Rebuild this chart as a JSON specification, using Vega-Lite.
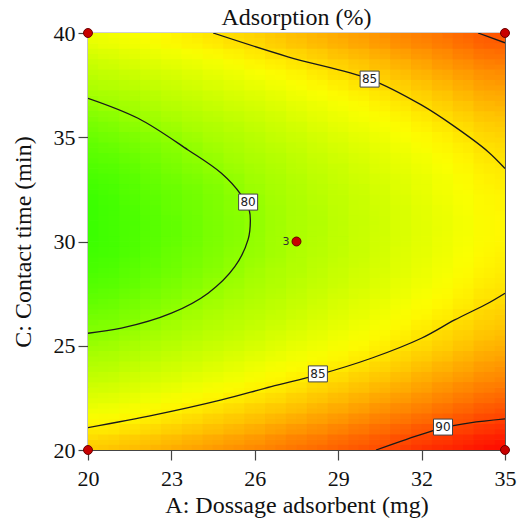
{
"$schema": "https://vega.github.io/schema/vega-lite/v6.json",
"width": 417, "height": 417,
"autosize": "none",
"padding": {"left": 88, "top": 33, "right": 19, "bottom": 72},
"background": "white",
"config": {"view": {"stroke": "#444", "strokeWidth": 1.2}, "font": "Liberation Serif"},
"title": {"text": "Adsorption (%)", "font": "Liberation Serif", "fontSize": 24, "fontWeight": "normal", "color": "#111", "offset": -8, "anchor": "middle"},
"datasets": {
"grid": [
{"A":20.375,"C":20.25,"Y":85.7},{"A":21.125,"C":20.25,"Y":86.0},{"A":21.875,"C":20.25,"Y":86.2},{"A":22.625,"C":20.25,"Y":86.5},{"A":23.375,"C":20.25,"Y":86.8},{"A":24.125,"C":20.25,"Y":87.1},{"A":24.875,"C":20.25,"Y":87.4},{"A":25.625,"C":20.25,"Y":87.7},{"A":26.375,"C":20.25,"Y":88.0},{"A":27.125,"C":20.25,"Y":88.4},{"A":27.875,"C":20.25,"Y":88.7},{"A":28.625,"C":20.25,"Y":89.0},{"A":29.375,"C":20.25,"Y":89.4},{"A":30.125,"C":20.25,"Y":89.7},{"A":30.875,"C":20.25,"Y":90.1},{"A":31.625,"C":20.25,"Y":90.5},{"A":32.375,"C":20.25,"Y":90.9},{"A":33.125,"C":20.25,"Y":91.2},{"A":33.875,"C":20.25,"Y":91.6},{"A":34.625,"C":20.25,"Y":92.0},
{"A":20.375,"C":20.75,"Y":85.0},{"A":21.125,"C":20.75,"Y":85.3},{"A":21.875,"C":20.75,"Y":85.5},{"A":22.625,"C":20.75,"Y":85.8},{"A":23.375,"C":20.75,"Y":86.1},{"A":24.125,"C":20.75,"Y":86.4},{"A":24.875,"C":20.75,"Y":86.7},{"A":25.625,"C":20.75,"Y":87.0},{"A":26.375,"C":20.75,"Y":87.3},{"A":27.125,"C":20.75,"Y":87.7},{"A":27.875,"C":20.75,"Y":88.0},{"A":28.625,"C":20.75,"Y":88.3},{"A":29.375,"C":20.75,"Y":88.7},{"A":30.125,"C":20.75,"Y":89.0},{"A":30.875,"C":20.75,"Y":89.4},{"A":31.625,"C":20.75,"Y":89.8},{"A":32.375,"C":20.75,"Y":90.1},{"A":33.125,"C":20.75,"Y":90.5},{"A":33.875,"C":20.75,"Y":90.9},{"A":34.625,"C":20.75,"Y":91.3},
{"A":20.375,"C":21.25,"Y":84.3},{"A":21.125,"C":21.25,"Y":84.6},{"A":21.875,"C":21.25,"Y":84.8},{"A":22.625,"C":21.25,"Y":85.1},{"A":23.375,"C":21.25,"Y":85.4},{"A":24.125,"C":21.25,"Y":85.7},{"A":24.875,"C":21.25,"Y":86.0},{"A":25.625,"C":21.25,"Y":86.3},{"A":26.375,"C":21.25,"Y":86.6},{"A":27.125,"C":21.25,"Y":87.0},{"A":27.875,"C":21.25,"Y":87.3},{"A":28.625,"C":21.25,"Y":87.6},{"A":29.375,"C":21.25,"Y":88.0},{"A":30.125,"C":21.25,"Y":88.4},{"A":30.875,"C":21.25,"Y":88.7},{"A":31.625,"C":21.25,"Y":89.1},{"A":32.375,"C":21.25,"Y":89.5},{"A":33.125,"C":21.25,"Y":89.8},{"A":33.875,"C":21.25,"Y":90.2},{"A":34.625,"C":21.25,"Y":90.6},
{"A":20.375,"C":21.75,"Y":83.7},{"A":21.125,"C":21.75,"Y":83.9},{"A":21.875,"C":21.75,"Y":84.2},{"A":22.625,"C":21.75,"Y":84.5},{"A":23.375,"C":21.75,"Y":84.8},{"A":24.125,"C":21.75,"Y":85.1},{"A":24.875,"C":21.75,"Y":85.4},{"A":25.625,"C":21.75,"Y":85.7},{"A":26.375,"C":21.75,"Y":86.0},{"A":27.125,"C":21.75,"Y":86.3},{"A":27.875,"C":21.75,"Y":86.7},{"A":28.625,"C":21.75,"Y":87.0},{"A":29.375,"C":21.75,"Y":87.3},{"A":30.125,"C":21.75,"Y":87.7},{"A":30.875,"C":21.75,"Y":88.1},{"A":31.625,"C":21.75,"Y":88.4},{"A":32.375,"C":21.75,"Y":88.8},{"A":33.125,"C":21.75,"Y":89.2},{"A":33.875,"C":21.75,"Y":89.6},{"A":34.625,"C":21.75,"Y":90.0},
{"A":20.375,"C":22.25,"Y":83.0},{"A":21.125,"C":22.25,"Y":83.3},{"A":21.875,"C":22.25,"Y":83.6},{"A":22.625,"C":22.25,"Y":83.9},{"A":23.375,"C":22.25,"Y":84.2},{"A":24.125,"C":22.25,"Y":84.5},{"A":24.875,"C":22.25,"Y":84.8},{"A":25.625,"C":22.25,"Y":85.1},{"A":26.375,"C":22.25,"Y":85.4},{"A":27.125,"C":22.25,"Y":85.7},{"A":27.875,"C":22.25,"Y":86.0},{"A":28.625,"C":22.25,"Y":86.4},{"A":29.375,"C":22.25,"Y":86.7},{"A":30.125,"C":22.25,"Y":87.1},{"A":30.875,"C":22.25,"Y":87.5},{"A":31.625,"C":22.25,"Y":87.8},{"A":32.375,"C":22.25,"Y":88.2},{"A":33.125,"C":22.25,"Y":88.6},{"A":33.875,"C":22.25,"Y":89.0},{"A":34.625,"C":22.25,"Y":89.4},
{"A":20.375,"C":22.75,"Y":82.5},{"A":21.125,"C":22.75,"Y":82.7},{"A":21.875,"C":22.75,"Y":83.0},{"A":22.625,"C":22.75,"Y":83.3},{"A":23.375,"C":22.75,"Y":83.6},{"A":24.125,"C":22.75,"Y":83.9},{"A":24.875,"C":22.75,"Y":84.2},{"A":25.625,"C":22.75,"Y":84.5},{"A":26.375,"C":22.75,"Y":84.8},{"A":27.125,"C":22.75,"Y":85.1},{"A":27.875,"C":22.75,"Y":85.5},{"A":28.625,"C":22.75,"Y":85.8},{"A":29.375,"C":22.75,"Y":86.2},{"A":30.125,"C":22.75,"Y":86.5},{"A":30.875,"C":22.75,"Y":86.9},{"A":31.625,"C":22.75,"Y":87.2},{"A":32.375,"C":22.75,"Y":87.6},{"A":33.125,"C":22.75,"Y":88.0},{"A":33.875,"C":22.75,"Y":88.4},{"A":34.625,"C":22.75,"Y":88.8},
{"A":20.375,"C":23.25,"Y":81.9},{"A":21.125,"C":23.25,"Y":82.2},{"A":21.875,"C":23.25,"Y":82.5},{"A":22.625,"C":23.25,"Y":82.7},{"A":23.375,"C":23.25,"Y":83.0},{"A":24.125,"C":23.25,"Y":83.3},{"A":24.875,"C":23.25,"Y":83.6},{"A":25.625,"C":23.25,"Y":83.9},{"A":26.375,"C":23.25,"Y":84.3},{"A":27.125,"C":23.25,"Y":84.6},{"A":27.875,"C":23.25,"Y":84.9},{"A":28.625,"C":23.25,"Y":85.3},{"A":29.375,"C":23.25,"Y":85.6},{"A":30.125,"C":23.25,"Y":86.0},{"A":30.875,"C":23.25,"Y":86.3},{"A":31.625,"C":23.25,"Y":86.7},{"A":32.375,"C":23.25,"Y":87.1},{"A":33.125,"C":23.25,"Y":87.5},{"A":33.875,"C":23.25,"Y":87.9},{"A":34.625,"C":23.25,"Y":88.2},
{"A":20.375,"C":23.75,"Y":81.4},{"A":21.125,"C":23.75,"Y":81.7},{"A":21.875,"C":23.75,"Y":82.0},{"A":22.625,"C":23.75,"Y":82.2},{"A":23.375,"C":23.75,"Y":82.5},{"A":24.125,"C":23.75,"Y":82.8},{"A":24.875,"C":23.75,"Y":83.1},{"A":25.625,"C":23.75,"Y":83.4},{"A":26.375,"C":23.75,"Y":83.8},{"A":27.125,"C":23.75,"Y":84.1},{"A":27.875,"C":23.75,"Y":84.4},{"A":28.625,"C":23.75,"Y":84.8},{"A":29.375,"C":23.75,"Y":85.1},{"A":30.125,"C":23.75,"Y":85.5},{"A":30.875,"C":23.75,"Y":85.8},{"A":31.625,"C":23.75,"Y":86.2},{"A":32.375,"C":23.75,"Y":86.6},{"A":33.125,"C":23.75,"Y":86.9},{"A":33.875,"C":23.75,"Y":87.3},{"A":34.625,"C":23.75,"Y":87.7},
{"A":20.375,"C":24.25,"Y":80.9},{"A":21.125,"C":24.25,"Y":81.2},{"A":21.875,"C":24.25,"Y":81.5},{"A":22.625,"C":24.25,"Y":81.8},{"A":23.375,"C":24.25,"Y":82.1},{"A":24.125,"C":24.25,"Y":82.3},{"A":24.875,"C":24.25,"Y":82.7},{"A":25.625,"C":24.25,"Y":83.0},{"A":26.375,"C":24.25,"Y":83.3},{"A":27.125,"C":24.25,"Y":83.6},{"A":27.875,"C":24.25,"Y":83.9},{"A":28.625,"C":24.25,"Y":84.3},{"A":29.375,"C":24.25,"Y":84.6},{"A":30.125,"C":24.25,"Y":85.0},{"A":30.875,"C":24.25,"Y":85.3},{"A":31.625,"C":24.25,"Y":85.7},{"A":32.375,"C":24.25,"Y":86.1},{"A":33.125,"C":24.25,"Y":86.5},{"A":33.875,"C":24.25,"Y":86.9},{"A":34.625,"C":24.25,"Y":87.3},
{"A":20.375,"C":24.75,"Y":80.5},{"A":21.125,"C":24.75,"Y":80.8},{"A":21.875,"C":24.75,"Y":81.0},{"A":22.625,"C":24.75,"Y":81.3},{"A":23.375,"C":24.75,"Y":81.6},{"A":24.125,"C":24.75,"Y":81.9},{"A":24.875,"C":24.75,"Y":82.2},{"A":25.625,"C":24.75,"Y":82.5},{"A":26.375,"C":24.75,"Y":82.8},{"A":27.125,"C":24.75,"Y":83.2},{"A":27.875,"C":24.75,"Y":83.5},{"A":28.625,"C":24.75,"Y":83.8},{"A":29.375,"C":24.75,"Y":84.2},{"A":30.125,"C":24.75,"Y":84.5},{"A":30.875,"C":24.75,"Y":84.9},{"A":31.625,"C":24.75,"Y":85.3},{"A":32.375,"C":24.75,"Y":85.6},{"A":33.125,"C":24.75,"Y":86.0},{"A":33.875,"C":24.75,"Y":86.4},{"A":34.625,"C":24.75,"Y":86.8},
{"A":20.375,"C":25.25,"Y":80.1},{"A":21.125,"C":25.25,"Y":80.4},{"A":21.875,"C":25.25,"Y":80.6},{"A":22.625,"C":25.25,"Y":80.9},{"A":23.375,"C":25.25,"Y":81.2},{"A":24.125,"C":25.25,"Y":81.5},{"A":24.875,"C":25.25,"Y":81.8},{"A":25.625,"C":25.25,"Y":82.1},{"A":26.375,"C":25.25,"Y":82.4},{"A":27.125,"C":25.25,"Y":82.8},{"A":27.875,"C":25.25,"Y":83.1},{"A":28.625,"C":25.25,"Y":83.4},{"A":29.375,"C":25.25,"Y":83.8},{"A":30.125,"C":25.25,"Y":84.1},{"A":30.875,"C":25.25,"Y":84.5},{"A":31.625,"C":25.25,"Y":84.9},{"A":32.375,"C":25.25,"Y":85.2},{"A":33.125,"C":25.25,"Y":85.6},{"A":33.875,"C":25.25,"Y":86.0},{"A":34.625,"C":25.25,"Y":86.4},
{"A":20.375,"C":25.75,"Y":79.7},{"A":21.125,"C":25.75,"Y":80.0},{"A":21.875,"C":25.75,"Y":80.3},{"A":22.625,"C":25.75,"Y":80.5},{"A":23.375,"C":25.75,"Y":80.8},{"A":24.125,"C":25.75,"Y":81.1},{"A":24.875,"C":25.75,"Y":81.4},{"A":25.625,"C":25.75,"Y":81.7},{"A":26.375,"C":25.75,"Y":82.1},{"A":27.125,"C":25.75,"Y":82.4},{"A":27.875,"C":25.75,"Y":82.7},{"A":28.625,"C":25.75,"Y":83.1},{"A":29.375,"C":25.75,"Y":83.4},{"A":30.125,"C":25.75,"Y":83.8},{"A":30.875,"C":25.75,"Y":84.1},{"A":31.625,"C":25.75,"Y":84.5},{"A":32.375,"C":25.75,"Y":84.9},{"A":33.125,"C":25.75,"Y":85.3},{"A":33.875,"C":25.75,"Y":85.6},{"A":34.625,"C":25.75,"Y":86.0},
{"A":20.375,"C":26.25,"Y":79.4},{"A":21.125,"C":26.25,"Y":79.6},{"A":21.875,"C":26.25,"Y":79.9},{"A":22.625,"C":26.25,"Y":80.2},{"A":23.375,"C":26.25,"Y":80.5},{"A":24.125,"C":26.25,"Y":80.8},{"A":24.875,"C":26.25,"Y":81.1},{"A":25.625,"C":26.25,"Y":81.4},{"A":26.375,"C":26.25,"Y":81.7},{"A":27.125,"C":26.25,"Y":82.0},{"A":27.875,"C":26.25,"Y":82.4},{"A":28.625,"C":26.25,"Y":82.7},{"A":29.375,"C":26.25,"Y":83.1},{"A":30.125,"C":26.25,"Y":83.4},{"A":30.875,"C":26.25,"Y":83.8},{"A":31.625,"C":26.25,"Y":84.2},{"A":32.375,"C":26.25,"Y":84.5},{"A":33.125,"C":26.25,"Y":84.9},{"A":33.875,"C":26.25,"Y":85.3},{"A":34.625,"C":26.25,"Y":85.7},
{"A":20.375,"C":26.75,"Y":79.1},{"A":21.125,"C":26.75,"Y":79.3},{"A":21.875,"C":26.75,"Y":79.6},{"A":22.625,"C":26.75,"Y":79.9},{"A":23.375,"C":26.75,"Y":80.2},{"A":24.125,"C":26.75,"Y":80.5},{"A":24.875,"C":26.75,"Y":80.8},{"A":25.625,"C":26.75,"Y":81.1},{"A":26.375,"C":26.75,"Y":81.4},{"A":27.125,"C":26.75,"Y":81.7},{"A":27.875,"C":26.75,"Y":82.1},{"A":28.625,"C":26.75,"Y":82.4},{"A":29.375,"C":26.75,"Y":82.8},{"A":30.125,"C":26.75,"Y":83.1},{"A":30.875,"C":26.75,"Y":83.5},{"A":31.625,"C":26.75,"Y":83.9},{"A":32.375,"C":26.75,"Y":84.2},{"A":33.125,"C":26.75,"Y":84.6},{"A":33.875,"C":26.75,"Y":85.0},{"A":34.625,"C":26.75,"Y":85.4},
{"A":20.375,"C":27.25,"Y":78.8},{"A":21.125,"C":27.25,"Y":79.1},{"A":21.875,"C":27.25,"Y":79.4},{"A":22.625,"C":27.25,"Y":79.6},{"A":23.375,"C":27.25,"Y":79.9},{"A":24.125,"C":27.25,"Y":80.2},{"A":24.875,"C":27.25,"Y":80.5},{"A":25.625,"C":27.25,"Y":80.8},{"A":26.375,"C":27.25,"Y":81.2},{"A":27.125,"C":27.25,"Y":81.5},{"A":27.875,"C":27.25,"Y":81.8},{"A":28.625,"C":27.25,"Y":82.2},{"A":29.375,"C":27.25,"Y":82.5},{"A":30.125,"C":27.25,"Y":82.9},{"A":30.875,"C":27.25,"Y":83.2},{"A":31.625,"C":27.25,"Y":83.6},{"A":32.375,"C":27.25,"Y":84.0},{"A":33.125,"C":27.25,"Y":84.3},{"A":33.875,"C":27.25,"Y":84.7},{"A":34.625,"C":27.25,"Y":85.1},
{"A":20.375,"C":27.75,"Y":78.6},{"A":21.125,"C":27.75,"Y":78.8},{"A":21.875,"C":27.75,"Y":79.1},{"A":22.625,"C":27.75,"Y":79.4},{"A":23.375,"C":27.75,"Y":79.7},{"A":24.125,"C":27.75,"Y":80.0},{"A":24.875,"C":27.75,"Y":80.3},{"A":25.625,"C":27.75,"Y":80.6},{"A":26.375,"C":27.75,"Y":80.9},{"A":27.125,"C":27.75,"Y":81.2},{"A":27.875,"C":27.75,"Y":81.6},{"A":28.625,"C":27.75,"Y":81.9},{"A":29.375,"C":27.75,"Y":82.3},{"A":30.125,"C":27.75,"Y":82.6},{"A":30.875,"C":27.75,"Y":83.0},{"A":31.625,"C":27.75,"Y":83.4},{"A":32.375,"C":27.75,"Y":83.7},{"A":33.125,"C":27.75,"Y":84.1},{"A":33.875,"C":27.75,"Y":84.5},{"A":34.625,"C":27.75,"Y":84.9},
{"A":20.375,"C":28.25,"Y":78.4},{"A":21.125,"C":28.25,"Y":78.6},{"A":21.875,"C":28.25,"Y":78.9},{"A":22.625,"C":28.25,"Y":79.2},{"A":23.375,"C":28.25,"Y":79.5},{"A":24.125,"C":28.25,"Y":79.8},{"A":24.875,"C":28.25,"Y":80.1},{"A":25.625,"C":28.25,"Y":80.4},{"A":26.375,"C":28.25,"Y":80.7},{"A":27.125,"C":28.25,"Y":81.0},{"A":27.875,"C":28.25,"Y":81.4},{"A":28.625,"C":28.25,"Y":81.7},{"A":29.375,"C":28.25,"Y":82.1},{"A":30.125,"C":28.25,"Y":82.4},{"A":30.875,"C":28.25,"Y":82.8},{"A":31.625,"C":28.25,"Y":83.2},{"A":32.375,"C":28.25,"Y":83.5},{"A":33.125,"C":28.25,"Y":83.9},{"A":33.875,"C":28.25,"Y":84.3},{"A":34.625,"C":28.25,"Y":84.7},
{"A":20.375,"C":28.75,"Y":78.2},{"A":21.125,"C":28.75,"Y":78.5},{"A":21.875,"C":28.75,"Y":78.8},{"A":22.625,"C":28.75,"Y":79.0},{"A":23.375,"C":28.75,"Y":79.3},{"A":24.125,"C":28.75,"Y":79.6},{"A":24.875,"C":28.75,"Y":79.9},{"A":25.625,"C":28.75,"Y":80.2},{"A":26.375,"C":28.75,"Y":80.6},{"A":27.125,"C":28.75,"Y":80.9},{"A":27.875,"C":28.75,"Y":81.2},{"A":28.625,"C":28.75,"Y":81.6},{"A":29.375,"C":28.75,"Y":81.9},{"A":30.125,"C":28.75,"Y":82.3},{"A":30.875,"C":28.75,"Y":82.6},{"A":31.625,"C":28.75,"Y":83.0},{"A":32.375,"C":28.75,"Y":83.4},{"A":33.125,"C":28.75,"Y":83.7},{"A":33.875,"C":28.75,"Y":84.1},{"A":34.625,"C":28.75,"Y":84.5},
{"A":20.375,"C":29.25,"Y":78.1},{"A":21.125,"C":29.25,"Y":78.3},{"A":21.875,"C":29.25,"Y":78.6},{"A":22.625,"C":29.25,"Y":78.9},{"A":23.375,"C":29.25,"Y":79.2},{"A":24.125,"C":29.25,"Y":79.5},{"A":24.875,"C":29.25,"Y":79.8},{"A":25.625,"C":29.25,"Y":80.1},{"A":26.375,"C":29.25,"Y":80.4},{"A":27.125,"C":29.25,"Y":80.7},{"A":27.875,"C":29.25,"Y":81.1},{"A":28.625,"C":29.25,"Y":81.4},{"A":29.375,"C":29.25,"Y":81.8},{"A":30.125,"C":29.25,"Y":82.1},{"A":30.875,"C":29.25,"Y":82.5},{"A":31.625,"C":29.25,"Y":82.9},{"A":32.375,"C":29.25,"Y":83.2},{"A":33.125,"C":29.25,"Y":83.6},{"A":33.875,"C":29.25,"Y":84.0},{"A":34.625,"C":29.25,"Y":84.4},
{"A":20.375,"C":29.75,"Y":78.0},{"A":21.125,"C":29.75,"Y":78.2},{"A":21.875,"C":29.75,"Y":78.5},{"A":22.625,"C":29.75,"Y":78.8},{"A":23.375,"C":29.75,"Y":79.1},{"A":24.125,"C":29.75,"Y":79.4},{"A":24.875,"C":29.75,"Y":79.7},{"A":25.625,"C":29.75,"Y":80.0},{"A":26.375,"C":29.75,"Y":80.3},{"A":27.125,"C":29.75,"Y":80.6},{"A":27.875,"C":29.75,"Y":81.0},{"A":28.625,"C":29.75,"Y":81.3},{"A":29.375,"C":29.75,"Y":81.7},{"A":30.125,"C":29.75,"Y":82.0},{"A":30.875,"C":29.75,"Y":82.4},{"A":31.625,"C":29.75,"Y":82.8},{"A":32.375,"C":29.75,"Y":83.1},{"A":33.125,"C":29.75,"Y":83.5},{"A":33.875,"C":29.75,"Y":83.9},{"A":34.625,"C":29.75,"Y":84.3},
{"A":20.375,"C":30.25,"Y":77.9},{"A":21.125,"C":30.25,"Y":78.2},{"A":21.875,"C":30.25,"Y":78.5},{"A":22.625,"C":30.25,"Y":78.7},{"A":23.375,"C":30.25,"Y":79.0},{"A":24.125,"C":30.25,"Y":79.3},{"A":24.875,"C":30.25,"Y":79.6},{"A":25.625,"C":30.25,"Y":79.9},{"A":26.375,"C":30.25,"Y":80.3},{"A":27.125,"C":30.25,"Y":80.6},{"A":27.875,"C":30.25,"Y":80.9},{"A":28.625,"C":30.25,"Y":81.3},{"A":29.375,"C":30.25,"Y":81.6},{"A":30.125,"C":30.25,"Y":82.0},{"A":30.875,"C":30.25,"Y":82.3},{"A":31.625,"C":30.25,"Y":82.7},{"A":32.375,"C":30.25,"Y":83.1},{"A":33.125,"C":30.25,"Y":83.5},{"A":33.875,"C":30.25,"Y":83.8},{"A":34.625,"C":30.25,"Y":84.2},
{"A":20.375,"C":30.75,"Y":77.9},{"A":21.125,"C":30.75,"Y":78.2},{"A":21.875,"C":30.75,"Y":78.4},{"A":22.625,"C":30.75,"Y":78.7},{"A":23.375,"C":30.75,"Y":79.0},{"A":24.125,"C":30.75,"Y":79.3},{"A":24.875,"C":30.75,"Y":79.6},{"A":25.625,"C":30.75,"Y":79.9},{"A":26.375,"C":30.75,"Y":80.2},{"A":27.125,"C":30.75,"Y":80.6},{"A":27.875,"C":30.75,"Y":80.9},{"A":28.625,"C":30.75,"Y":81.2},{"A":29.375,"C":30.75,"Y":81.6},{"A":30.125,"C":30.75,"Y":81.9},{"A":30.875,"C":30.75,"Y":82.3},{"A":31.625,"C":30.75,"Y":82.7},{"A":32.375,"C":30.75,"Y":83.0},{"A":33.125,"C":30.75,"Y":83.4},{"A":33.875,"C":30.75,"Y":83.8},{"A":34.625,"C":30.75,"Y":84.2},
{"A":20.375,"C":31.25,"Y":77.9},{"A":21.125,"C":31.25,"Y":78.2},{"A":21.875,"C":31.25,"Y":78.4},{"A":22.625,"C":31.25,"Y":78.7},{"A":23.375,"C":31.25,"Y":79.0},{"A":24.125,"C":31.25,"Y":79.3},{"A":24.875,"C":31.25,"Y":79.6},{"A":25.625,"C":31.25,"Y":79.9},{"A":26.375,"C":31.25,"Y":80.2},{"A":27.125,"C":31.25,"Y":80.6},{"A":27.875,"C":31.25,"Y":80.9},{"A":28.625,"C":31.25,"Y":81.2},{"A":29.375,"C":31.25,"Y":81.6},{"A":30.125,"C":31.25,"Y":81.9},{"A":30.875,"C":31.25,"Y":82.3},{"A":31.625,"C":31.25,"Y":82.7},{"A":32.375,"C":31.25,"Y":83.1},{"A":33.125,"C":31.25,"Y":83.4},{"A":33.875,"C":31.25,"Y":83.8},{"A":34.625,"C":31.25,"Y":84.2},
{"A":20.375,"C":31.75,"Y":77.9},{"A":21.125,"C":31.75,"Y":78.2},{"A":21.875,"C":31.75,"Y":78.5},{"A":22.625,"C":31.75,"Y":78.8},{"A":23.375,"C":31.75,"Y":79.1},{"A":24.125,"C":31.75,"Y":79.3},{"A":24.875,"C":31.75,"Y":79.7},{"A":25.625,"C":31.75,"Y":80.0},{"A":26.375,"C":31.75,"Y":80.3},{"A":27.125,"C":31.75,"Y":80.6},{"A":27.875,"C":31.75,"Y":80.9},{"A":28.625,"C":31.75,"Y":81.3},{"A":29.375,"C":31.75,"Y":81.6},{"A":30.125,"C":31.75,"Y":82.0},{"A":30.875,"C":31.75,"Y":82.3},{"A":31.625,"C":31.75,"Y":82.7},{"A":32.375,"C":31.75,"Y":83.1},{"A":33.125,"C":31.75,"Y":83.5},{"A":33.875,"C":31.75,"Y":83.9},{"A":34.625,"C":31.75,"Y":84.3},
{"A":20.375,"C":32.25,"Y":78.0},{"A":21.125,"C":32.25,"Y":78.3},{"A":21.875,"C":32.25,"Y":78.6},{"A":22.625,"C":32.25,"Y":78.8},{"A":23.375,"C":32.25,"Y":79.1},{"A":24.125,"C":32.25,"Y":79.4},{"A":24.875,"C":32.25,"Y":79.7},{"A":25.625,"C":32.25,"Y":80.0},{"A":26.375,"C":32.25,"Y":80.4},{"A":27.125,"C":32.25,"Y":80.7},{"A":27.875,"C":32.25,"Y":81.0},{"A":28.625,"C":32.25,"Y":81.4},{"A":29.375,"C":32.25,"Y":81.7},{"A":30.125,"C":32.25,"Y":82.1},{"A":30.875,"C":32.25,"Y":82.4},{"A":31.625,"C":32.25,"Y":82.8},{"A":32.375,"C":32.25,"Y":83.2},{"A":33.125,"C":32.25,"Y":83.6},{"A":33.875,"C":32.25,"Y":83.9},{"A":34.625,"C":32.25,"Y":84.3},
{"A":20.375,"C":32.75,"Y":78.1},{"A":21.125,"C":32.75,"Y":78.4},{"A":21.875,"C":32.75,"Y":78.7},{"A":22.625,"C":32.75,"Y":79.0},{"A":23.375,"C":32.75,"Y":79.2},{"A":24.125,"C":32.75,"Y":79.5},{"A":24.875,"C":32.75,"Y":79.8},{"A":25.625,"C":32.75,"Y":80.2},{"A":26.375,"C":32.75,"Y":80.5},{"A":27.125,"C":32.75,"Y":80.8},{"A":27.875,"C":32.75,"Y":81.1},{"A":28.625,"C":32.75,"Y":81.5},{"A":29.375,"C":32.75,"Y":81.8},{"A":30.125,"C":32.75,"Y":82.2},{"A":30.875,"C":32.75,"Y":82.5},{"A":31.625,"C":32.75,"Y":82.9},{"A":32.375,"C":32.75,"Y":83.3},{"A":33.125,"C":32.75,"Y":83.7},{"A":33.875,"C":32.75,"Y":84.1},{"A":34.625,"C":32.75,"Y":84.5},
{"A":20.375,"C":33.25,"Y":78.3},{"A":21.125,"C":33.25,"Y":78.5},{"A":21.875,"C":33.25,"Y":78.8},{"A":22.625,"C":33.25,"Y":79.1},{"A":23.375,"C":33.25,"Y":79.4},{"A":24.125,"C":33.25,"Y":79.7},{"A":24.875,"C":33.25,"Y":80.0},{"A":25.625,"C":33.25,"Y":80.3},{"A":26.375,"C":33.25,"Y":80.6},{"A":27.125,"C":33.25,"Y":80.9},{"A":27.875,"C":33.25,"Y":81.3},{"A":28.625,"C":33.25,"Y":81.6},{"A":29.375,"C":33.25,"Y":82.0},{"A":30.125,"C":33.25,"Y":82.3},{"A":30.875,"C":33.25,"Y":82.7},{"A":31.625,"C":33.25,"Y":83.0},{"A":32.375,"C":33.25,"Y":83.4},{"A":33.125,"C":33.25,"Y":83.8},{"A":33.875,"C":33.25,"Y":84.2},{"A":34.625,"C":33.25,"Y":84.6},
{"A":20.375,"C":33.75,"Y":78.5},{"A":21.125,"C":33.75,"Y":78.7},{"A":21.875,"C":33.75,"Y":79.0},{"A":22.625,"C":33.75,"Y":79.3},{"A":23.375,"C":33.75,"Y":79.6},{"A":24.125,"C":33.75,"Y":79.9},{"A":24.875,"C":33.75,"Y":80.2},{"A":25.625,"C":33.75,"Y":80.5},{"A":26.375,"C":33.75,"Y":80.8},{"A":27.125,"C":33.75,"Y":81.1},{"A":27.875,"C":33.75,"Y":81.5},{"A":28.625,"C":33.75,"Y":81.8},{"A":29.375,"C":33.75,"Y":82.1},{"A":30.125,"C":33.75,"Y":82.5},{"A":30.875,"C":33.75,"Y":82.9},{"A":31.625,"C":33.75,"Y":83.2},{"A":32.375,"C":33.75,"Y":83.6},{"A":33.125,"C":33.75,"Y":84.0},{"A":33.875,"C":33.75,"Y":84.4},{"A":34.625,"C":33.75,"Y":84.8},
{"A":20.375,"C":34.25,"Y":78.7},{"A":21.125,"C":34.25,"Y":78.9},{"A":21.875,"C":34.25,"Y":79.2},{"A":22.625,"C":34.25,"Y":79.5},{"A":23.375,"C":34.25,"Y":79.8},{"A":24.125,"C":34.25,"Y":80.1},{"A":24.875,"C":34.25,"Y":80.4},{"A":25.625,"C":34.25,"Y":80.7},{"A":26.375,"C":34.25,"Y":81.0},{"A":27.125,"C":34.25,"Y":81.3},{"A":27.875,"C":34.25,"Y":81.7},{"A":28.625,"C":34.25,"Y":82.0},{"A":29.375,"C":34.25,"Y":82.4},{"A":30.125,"C":34.25,"Y":82.7},{"A":30.875,"C":34.25,"Y":83.1},{"A":31.625,"C":34.25,"Y":83.4},{"A":32.375,"C":34.25,"Y":83.8},{"A":33.125,"C":34.25,"Y":84.2},{"A":33.875,"C":34.25,"Y":84.6},{"A":34.625,"C":34.25,"Y":85.0},
{"A":20.375,"C":34.75,"Y":78.9},{"A":21.125,"C":34.75,"Y":79.2},{"A":21.875,"C":34.75,"Y":79.5},{"A":22.625,"C":34.75,"Y":79.7},{"A":23.375,"C":34.75,"Y":80.0},{"A":24.125,"C":34.75,"Y":80.3},{"A":24.875,"C":34.75,"Y":80.6},{"A":25.625,"C":34.75,"Y":80.9},{"A":26.375,"C":34.75,"Y":81.3},{"A":27.125,"C":34.75,"Y":81.6},{"A":27.875,"C":34.75,"Y":81.9},{"A":28.625,"C":34.75,"Y":82.3},{"A":29.375,"C":34.75,"Y":82.6},{"A":30.125,"C":34.75,"Y":83.0},{"A":30.875,"C":34.75,"Y":83.3},{"A":31.625,"C":34.75,"Y":83.7},{"A":32.375,"C":34.75,"Y":84.1},{"A":33.125,"C":34.75,"Y":84.4},{"A":33.875,"C":34.75,"Y":84.8},{"A":34.625,"C":34.75,"Y":85.2},
{"A":20.375,"C":35.25,"Y":79.2},{"A":21.125,"C":35.25,"Y":79.5},{"A":21.875,"C":35.25,"Y":79.7},{"A":22.625,"C":35.25,"Y":80.0},{"A":23.375,"C":35.25,"Y":80.3},{"A":24.125,"C":35.25,"Y":80.6},{"A":24.875,"C":35.25,"Y":80.9},{"A":25.625,"C":35.25,"Y":81.2},{"A":26.375,"C":35.25,"Y":81.5},{"A":27.125,"C":35.25,"Y":81.9},{"A":27.875,"C":35.25,"Y":82.2},{"A":28.625,"C":35.25,"Y":82.5},{"A":29.375,"C":35.25,"Y":82.9},{"A":30.125,"C":35.25,"Y":83.2},{"A":30.875,"C":35.25,"Y":83.6},{"A":31.625,"C":35.25,"Y":84.0},{"A":32.375,"C":35.25,"Y":84.3},{"A":33.125,"C":35.25,"Y":84.7},{"A":33.875,"C":35.25,"Y":85.1},{"A":34.625,"C":35.25,"Y":85.5},
{"A":20.375,"C":35.75,"Y":79.5},{"A":21.125,"C":35.75,"Y":79.8},{"A":21.875,"C":35.75,"Y":80.1},{"A":22.625,"C":35.75,"Y":80.3},{"A":23.375,"C":35.75,"Y":80.6},{"A":24.125,"C":35.75,"Y":80.9},{"A":24.875,"C":35.75,"Y":81.2},{"A":25.625,"C":35.75,"Y":81.5},{"A":26.375,"C":35.75,"Y":81.9},{"A":27.125,"C":35.75,"Y":82.2},{"A":27.875,"C":35.75,"Y":82.5},{"A":28.625,"C":35.75,"Y":82.9},{"A":29.375,"C":35.75,"Y":83.2},{"A":30.125,"C":35.75,"Y":83.6},{"A":30.875,"C":35.75,"Y":83.9},{"A":31.625,"C":35.75,"Y":84.3},{"A":32.375,"C":35.75,"Y":84.7},{"A":33.125,"C":35.75,"Y":85.0},{"A":33.875,"C":35.75,"Y":85.4},{"A":34.625,"C":35.75,"Y":85.8},
{"A":20.375,"C":36.25,"Y":79.9},{"A":21.125,"C":36.25,"Y":80.1},{"A":21.875,"C":36.25,"Y":80.4},{"A":22.625,"C":36.25,"Y":80.7},{"A":23.375,"C":36.25,"Y":81.0},{"A":24.125,"C":36.25,"Y":81.3},{"A":24.875,"C":36.25,"Y":81.6},{"A":25.625,"C":36.25,"Y":81.9},{"A":26.375,"C":36.25,"Y":82.2},{"A":27.125,"C":36.25,"Y":82.5},{"A":27.875,"C":36.25,"Y":82.9},{"A":28.625,"C":36.25,"Y":83.2},{"A":29.375,"C":36.25,"Y":83.6},{"A":30.125,"C":36.25,"Y":83.9},{"A":30.875,"C":36.25,"Y":84.3},{"A":31.625,"C":36.25,"Y":84.6},{"A":32.375,"C":36.25,"Y":85.0},{"A":33.125,"C":36.25,"Y":85.4},{"A":33.875,"C":36.25,"Y":85.8},{"A":34.625,"C":36.25,"Y":86.2},
{"A":20.375,"C":36.75,"Y":80.2},{"A":21.125,"C":36.75,"Y":80.5},{"A":21.875,"C":36.75,"Y":80.8},{"A":22.625,"C":36.75,"Y":81.1},{"A":23.375,"C":36.75,"Y":81.4},{"A":24.125,"C":36.75,"Y":81.7},{"A":24.875,"C":36.75,"Y":82.0},{"A":25.625,"C":36.75,"Y":82.3},{"A":26.375,"C":36.75,"Y":82.6},{"A":27.125,"C":36.75,"Y":82.9},{"A":27.875,"C":36.75,"Y":83.2},{"A":28.625,"C":36.75,"Y":83.6},{"A":29.375,"C":36.75,"Y":83.9},{"A":30.125,"C":36.75,"Y":84.3},{"A":30.875,"C":36.75,"Y":84.7},{"A":31.625,"C":36.75,"Y":85.0},{"A":32.375,"C":36.75,"Y":85.4},{"A":33.125,"C":36.75,"Y":85.8},{"A":33.875,"C":36.75,"Y":86.2},{"A":34.625,"C":36.75,"Y":86.6},
{"A":20.375,"C":37.25,"Y":80.7},{"A":21.125,"C":37.25,"Y":80.9},{"A":21.875,"C":37.25,"Y":81.2},{"A":22.625,"C":37.25,"Y":81.5},{"A":23.375,"C":37.25,"Y":81.8},{"A":24.125,"C":37.25,"Y":82.1},{"A":24.875,"C":37.25,"Y":82.4},{"A":25.625,"C":37.25,"Y":82.7},{"A":26.375,"C":37.25,"Y":83.0},{"A":27.125,"C":37.25,"Y":83.3},{"A":27.875,"C":37.25,"Y":83.7},{"A":28.625,"C":37.25,"Y":84.0},{"A":29.375,"C":37.25,"Y":84.4},{"A":30.125,"C":37.25,"Y":84.7},{"A":30.875,"C":37.25,"Y":85.1},{"A":31.625,"C":37.25,"Y":85.4},{"A":32.375,"C":37.25,"Y":85.8},{"A":33.125,"C":37.25,"Y":86.2},{"A":33.875,"C":37.25,"Y":86.6},{"A":34.625,"C":37.25,"Y":87.0},
{"A":20.375,"C":37.75,"Y":81.1},{"A":21.125,"C":37.75,"Y":81.4},{"A":21.875,"C":37.75,"Y":81.7},{"A":22.625,"C":37.75,"Y":81.9},{"A":23.375,"C":37.75,"Y":82.2},{"A":24.125,"C":37.75,"Y":82.5},{"A":24.875,"C":37.75,"Y":82.8},{"A":25.625,"C":37.75,"Y":83.1},{"A":26.375,"C":37.75,"Y":83.5},{"A":27.125,"C":37.75,"Y":83.8},{"A":27.875,"C":37.75,"Y":84.1},{"A":28.625,"C":37.75,"Y":84.5},{"A":29.375,"C":37.75,"Y":84.8},{"A":30.125,"C":37.75,"Y":85.2},{"A":30.875,"C":37.75,"Y":85.5},{"A":31.625,"C":37.75,"Y":85.9},{"A":32.375,"C":37.75,"Y":86.3},{"A":33.125,"C":37.75,"Y":86.7},{"A":33.875,"C":37.75,"Y":87.1},{"A":34.625,"C":37.75,"Y":87.5},
{"A":20.375,"C":38.25,"Y":81.6},{"A":21.125,"C":38.25,"Y":81.9},{"A":21.875,"C":38.25,"Y":82.2},{"A":22.625,"C":38.25,"Y":82.4},{"A":23.375,"C":38.25,"Y":82.7},{"A":24.125,"C":38.25,"Y":83.0},{"A":24.875,"C":38.25,"Y":83.3},{"A":25.625,"C":38.25,"Y":83.6},{"A":26.375,"C":38.25,"Y":84.0},{"A":27.125,"C":38.25,"Y":84.3},{"A":27.875,"C":38.25,"Y":84.6},{"A":28.625,"C":38.25,"Y":85.0},{"A":29.375,"C":38.25,"Y":85.3},{"A":30.125,"C":38.25,"Y":85.7},{"A":30.875,"C":38.25,"Y":86.0},{"A":31.625,"C":38.25,"Y":86.4},{"A":32.375,"C":38.25,"Y":86.8},{"A":33.125,"C":38.25,"Y":87.2},{"A":33.875,"C":38.25,"Y":87.5},{"A":34.625,"C":38.25,"Y":87.9},
{"A":20.375,"C":38.75,"Y":82.1},{"A":21.125,"C":38.75,"Y":82.4},{"A":21.875,"C":38.75,"Y":82.7},{"A":22.625,"C":38.75,"Y":83.0},{"A":23.375,"C":38.75,"Y":83.2},{"A":24.125,"C":38.75,"Y":83.5},{"A":24.875,"C":38.75,"Y":83.8},{"A":25.625,"C":38.75,"Y":84.2},{"A":26.375,"C":38.75,"Y":84.5},{"A":27.125,"C":38.75,"Y":84.8},{"A":27.875,"C":38.75,"Y":85.1},{"A":28.625,"C":38.75,"Y":85.5},{"A":29.375,"C":38.75,"Y":85.8},{"A":30.125,"C":38.75,"Y":86.2},{"A":30.875,"C":38.75,"Y":86.5},{"A":31.625,"C":38.75,"Y":86.9},{"A":32.375,"C":38.75,"Y":87.3},{"A":33.125,"C":38.75,"Y":87.7},{"A":33.875,"C":38.75,"Y":88.1},{"A":34.625,"C":38.75,"Y":88.5},
{"A":20.375,"C":39.25,"Y":82.7},{"A":21.125,"C":39.25,"Y":83.0},{"A":21.875,"C":39.25,"Y":83.2},{"A":22.625,"C":39.25,"Y":83.5},{"A":23.375,"C":39.25,"Y":83.8},{"A":24.125,"C":39.25,"Y":84.1},{"A":24.875,"C":39.25,"Y":84.4},{"A":25.625,"C":39.25,"Y":84.7},{"A":26.375,"C":39.25,"Y":85.0},{"A":27.125,"C":39.25,"Y":85.4},{"A":27.875,"C":39.25,"Y":85.7},{"A":28.625,"C":39.25,"Y":86.0},{"A":29.375,"C":39.25,"Y":86.4},{"A":30.125,"C":39.25,"Y":86.7},{"A":30.875,"C":39.25,"Y":87.1},{"A":31.625,"C":39.25,"Y":87.5},{"A":32.375,"C":39.25,"Y":87.8},{"A":33.125,"C":39.25,"Y":88.2},{"A":33.875,"C":39.25,"Y":88.6},{"A":34.625,"C":39.25,"Y":89.0},
{"A":20.375,"C":39.75,"Y":83.3},{"A":21.125,"C":39.75,"Y":83.6},{"A":21.875,"C":39.75,"Y":83.8},{"A":22.625,"C":39.75,"Y":84.1},{"A":23.375,"C":39.75,"Y":84.4},{"A":24.125,"C":39.75,"Y":84.7},{"A":24.875,"C":39.75,"Y":85.0},{"A":25.625,"C":39.75,"Y":85.3},{"A":26.375,"C":39.75,"Y":85.6},{"A":27.125,"C":39.75,"Y":86.0},{"A":27.875,"C":39.75,"Y":86.3},{"A":28.625,"C":39.75,"Y":86.6},{"A":29.375,"C":39.75,"Y":87.0},{"A":30.125,"C":39.75,"Y":87.3},{"A":30.875,"C":39.75,"Y":87.7},{"A":31.625,"C":39.75,"Y":88.1},{"A":32.375,"C":39.75,"Y":88.4},{"A":33.125,"C":39.75,"Y":88.8},{"A":33.875,"C":39.75,"Y":89.2},{"A":34.625,"C":39.75,"Y":89.6}
],
"contours": [
{"level":"80","i":0,"A":20,"C":36.87},{"level":"80","i":1,"A":21.8,"C":35.91},{"level":"80","i":2,"A":23.6,"C":34.39},{"level":"80","i":3,"A":24.8,"C":33.27},{"level":"80","i":4,"A":25.5,"C":32.25},{"level":"80","i":5,"A":25.8,"C":31.5},{"level":"80","i":6,"A":25.84,"C":31.0},{"level":"80","i":7,"A":25.76,"C":30.1},{"level":"80","i":8,"A":25.28,"C":28.79},{"level":"80","i":9,"A":24.32,"C":27.52},{"level":"80","i":10,"A":23.0,"C":26.56},{"level":"80","i":11,"A":21.2,"C":25.84},{"level":"80","i":12,"A":20,"C":25.6},
{"level":"85t","i":0,"A":24.5,"C":40},{"level":"85t","i":1,"A":27.19,"C":38.86},{"level":"85t","i":2,"A":30.13,"C":37.79},{"level":"85t","i":3,"A":31.99,"C":36.55},{"level":"85t","i":4,"A":33.19,"C":35.51},{"level":"85t","i":5,"A":34.39,"C":34.31},{"level":"85t","i":6,"A":35,"C":33.5},
{"level":"85b","i":0,"A":20,"C":21.07},{"level":"85b","i":1,"A":22.4,"C":21.68},{"level":"85b","i":2,"A":24.8,"C":22.4},{"level":"85b","i":3,"A":26.59,"C":23.04},{"level":"85b","i":4,"A":28.27,"C":23.6},{"level":"85b","i":5,"A":30.19,"C":24.4},{"level":"85b","i":6,"A":31.99,"C":25.36},{"level":"85b","i":7,"A":33.19,"C":26.24},{"level":"85b","i":8,"A":34.39,"C":27.04},{"level":"85b","i":9,"A":35,"C":27.52},
{"level":"90b","i":0,"A":30.36,"C":20},{"level":"90b","i":1,"A":31.22,"C":20.4},{"level":"90b","i":2,"A":31.94,"C":20.72},{"level":"90b","i":3,"A":32.77,"C":21.06},{"level":"90b","i":4,"A":33.74,"C":21.3},{"level":"90b","i":5,"A":35,"C":21.49},
{"level":"90t","i":0,"A":34.03,"C":40},{"level":"90t","i":1,"A":35,"C":39.53}
],
"labels": [
{"A":25.76,"C":31.89,"t":"80"},{"A":30.13,"C":37.79,"t":"85"},{"A":28.27,"C":23.65,"t":"85"},{"A":32.77,"C":21.1,"t":"90"}
],
"design": [
{"A":20,"C":20,"n":""},{"A":20,"C":40,"n":""},{"A":35,"C":20,"n":""},{"A":35,"C":40,"n":""},{"A":27.5,"C":30,"n":"3"}
]
},
"layer": [
{"data": {"name": "grid"},
 "mark": {"type": "rect", "width": 21.5, "height": 11, "clip": true},
 "encoding": {
  "x": {"field": "A", "type": "quantitative", "scale": {"domain": [20, 35], "nice": false, "zero": false},
        "axis": {"values": [20, 23, 26, 29, 32, 35], "title": "A: Dossage adsorbent (mg)", "grid": false, "domain": false,
                 "labelFont": "Liberation Serif", "labelFontSize": 22, "labelColor": "#111", "labelFlush": false, "labelOverlap": false, "labelPadding": 8,
                 "tickColor": "#444", "tickSize": 10, "tickWidth": 1.2,
                 "titleFont": "Liberation Serif", "titleFontSize": 24, "titleFontWeight": "normal", "titleColor": "#111", "titlePadding": 4}},
  "y": {"field": "C", "type": "quantitative", "scale": {"domain": [20, 40], "nice": false, "zero": false},
        "axis": {"values": [20, 25, 30, 35, 40], "title": "C: Contact time (min)", "grid": false, "domain": false,
                 "labelFont": "Liberation Serif", "labelFontSize": 22, "labelColor": "#111", "labelFlush": false, "labelOverlap": false, "labelPadding": 3,
                 "tickColor": "#444", "tickSize": 10, "tickWidth": 1.2,
                 "titleFont": "Liberation Serif", "titleFontSize": 24, "titleFontWeight": "normal", "titleColor": "#111", "titlePadding": 18}},
  "color": {"field": "Y", "type": "quantitative", "legend": null,
            "scale": {"domain": [76, 78, 80.6, 84.0, 92.5], "range": ["#00ff00", "#40ff00", "#a8ff00", "#ffff00", "#ff0000"], "interpolate": "rgb"}}
 }},
{"data": {"name": "grid"},
 "mark": {"type": "rect", "width": 42, "height": 21, "opacity": 0.3, "clip": true},
 "encoding": {
  "x": {"field": "A", "type": "quantitative"},
  "y": {"field": "C", "type": "quantitative"},
  "color": {"field": "Y", "type": "quantitative", "legend": null}
 }},
{"data": {"name": "contours"},
 "mark": {"type": "line", "color": "#1a1a1a", "strokeWidth": 1.3, "interpolate": "catmull-rom", "clip": true},
 "encoding": {"x": {"field": "A", "type": "quantitative"}, "y": {"field": "C", "type": "quantitative"},
              "detail": {"field": "level"}, "order": {"field": "i"}}},
{"data": {"name": "labels"},
 "mark": {"type": "rect", "width": 19, "height": 16, "fill": "white", "stroke": "#444", "strokeWidth": 1},
 "encoding": {"x": {"field": "A", "type": "quantitative"}, "y": {"field": "C", "type": "quantitative"}}},
{"data": {"name": "labels"},
 "mark": {"type": "text", "font": "DejaVu Sans", "fontSize": 12, "color": "#222", "baseline": "middle", "align": "center"},
 "encoding": {"x": {"field": "A", "type": "quantitative"}, "y": {"field": "C", "type": "quantitative"}, "text": {"field": "t"}}},
{"data": {"name": "design"},
 "mark": {"type": "point", "filled": true, "size": 80, "fill": "#c80000", "stroke": "#6b0000", "strokeWidth": 1, "opacity": 1},
 "encoding": {"x": {"field": "A", "type": "quantitative"}, "y": {"field": "C", "type": "quantitative"}}},
{"data": {"name": "design"},
 "mark": {"type": "text", "font": "DejaVu Sans", "fontSize": 11, "color": "#333", "align": "right", "baseline": "middle", "dx": -7},
 "encoding": {"x": {"field": "A", "type": "quantitative"}, "y": {"field": "C", "type": "quantitative"}, "text": {"field": "n"}}}
]
}
